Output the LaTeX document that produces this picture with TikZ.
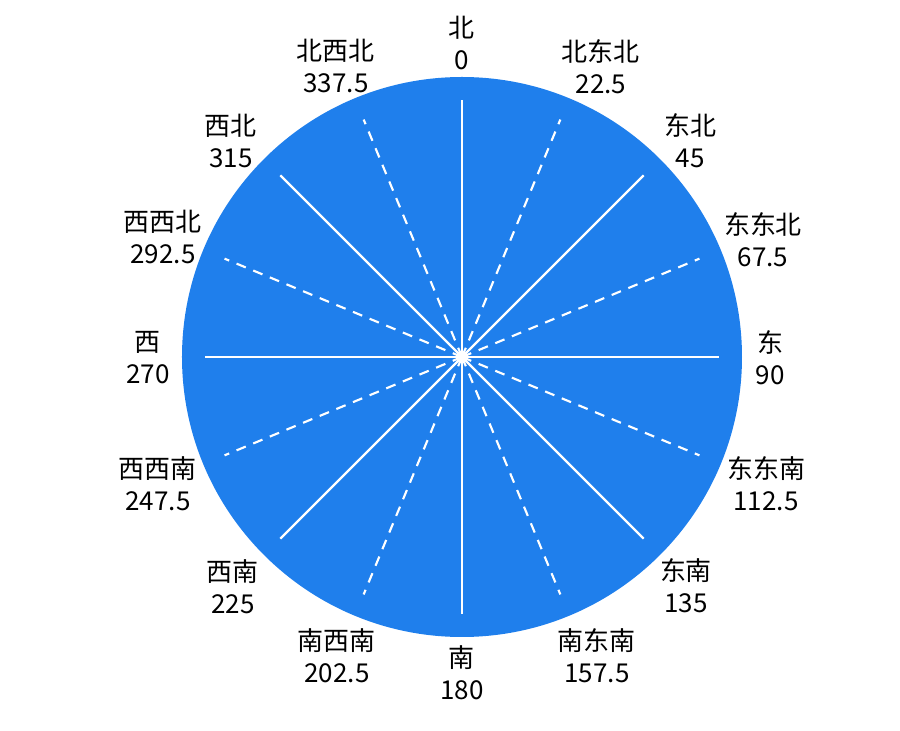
\documentclass[tikz,border=0pt]{standalone}
\usepackage{fontspec}
\setmainfont{Noto Sans CJK SC}
\definecolor{dialblue}{RGB}{31,127,236}
\begin{document}
\begin{tikzpicture}[x=0.75pt, y=0.75pt,
    spoke/.style={white, line width=1.6pt},
    dashspoke/.style={spoke, dash pattern=on 7.5pt off 6pt},
    lbl/.style={align=center, inner sep=0pt, font=\fontsize{19.5pt}{24pt}\selectfont}]
    \useasboundingbox (-462,-374) rectangle (438,357);
    \coordinate (c) at (0,0);
    \fill[dialblue] (c) circle (280);
    % spokes
    \foreach \i in {0,...,15}{
        \pgfmathsetmacro\ang{90-22.5*\i}
        \coordinate (e\i) at (\ang:257);
        \ifodd\i
            \draw[dashspoke] (c) -- (e\i);
        \else
            \draw[spoke] (c) -- (e\i);
        \fi
    }
    % labels
    \foreach \i/\dir/\val/\lx/\ly in {0/北/0/0/314, 1/北东北/22.5/139/290,
        2/东北/45/228/216, 3/东东北/67.5/301/117, 4/东/90/308/-1,
        5/东东南/112.5/304/-127, 6/东南/135/224/-229, 7/南东南/157.5/135/-299,
        8/南/180/0/-316, 9/南西南/202.5/-125/-299, 10/西南/225/-229/-230,
        11/西西南/247.5/-304/-127, 12/西/270/-314/-1, 13/西西北/292.5/-299/120,
        14/西北/315/-231/216, 15/北西北/337.5/-126/291}{
        \node[lbl] (l\i) at (\lx,\ly) {\dir\\\val};
    }
\end{tikzpicture}
\end{document}
